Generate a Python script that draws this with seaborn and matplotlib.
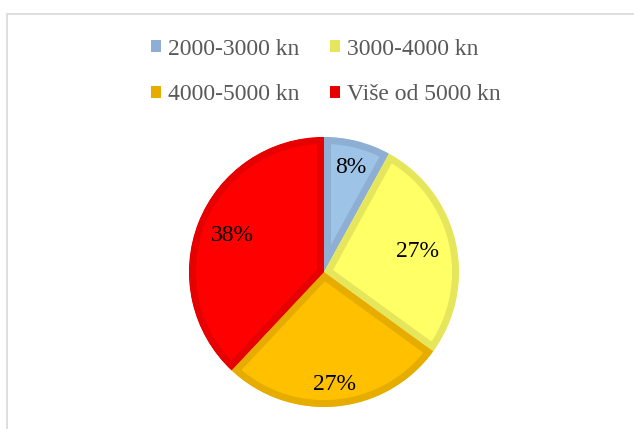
import matplotlib
matplotlib.use("Agg")
import numpy as np
import matplotlib.pyplot as plt
from matplotlib.patches import Patch, Rectangle
import seaborn as sns

categories = ["2000-3000 kn", "3000-4000 kn", "4000-5000 kn", "Više od 5000 kn"]
shares = [8, 27, 27, 38]
fill_colors = ["#9DC3E6", "#FFFF66", "#FFC000", "#FF0000"]
edge_colors = ["#8EAFD3", "#E6E65C", "#E6AD00", "#E60000"]
label_dist = [0.80, 0.71, 0.84, 0.73]  # label distance from centre, fraction of radius

sns.set_theme(style="white")
plt.rcParams["font.family"] = ["Liberation Serif", "DejaVu Serif"]

W, H = 634, 429
fig = plt.figure(figsize=(W / 100, H / 100), dpi=100)
fig.patch.set_facecolor("white")

# chart frame (only top/left visible)
fig.patches.append(Rectangle((6.5 / W, -0.2), 1.5, 1.2 - 14 / H,
                             transform=fig.transFigure, fill=False,
                             edgecolor="#D9D9D9", lw=1.2))

cx, cy, half = 324, 272, 140
ax = fig.add_axes([(cx - half) / W, (H - cy - half) / H, 2 * half / W, 2 * half / H])

pal = sns.color_palette(fill_colors)
R = 135 / half
wedges, texts, autotexts = ax.pie(
    shares, colors=pal, startangle=90, counterclock=False,
    radius=R, autopct="%.0f%%", pctdistance=0.78,
    wedgeprops=dict(linewidth=10, joinstyle="miter"),
    textprops=dict(fontsize=17, color="black"),
)
ax.set_xlim(-1, 1)
ax.set_ylim(-1, 1)
ax.set_aspect("equal")
ax.axis("off")
for w, ec, at, d in zip(wedges, edge_colors, autotexts, label_dist):
    w.set_edgecolor(ec)
    w.set_clip_on(True)
    w.set_clip_path(w)  # border drawn inside each slice only
    mid = np.deg2rad((w.theta1 + w.theta2) / 2)
    at.set_position((d * w.r * np.cos(mid), d * w.r * np.sin(mid)))
    at.set_zorder(5)

order = [0, 2, 1, 3]  # row-wise legend order
handles = [Patch(facecolor=edge_colors[i], edgecolor="none") for i in order]
labels = [categories[i] for i in order]
leg = fig.legend(handles, labels, ncol=2, loc="center",
                 bbox_to_anchor=(326 / W, 1 - 72 / H), frameon=False,
                 fontsize=17, handlelength=0.42, handleheight=0.42,
                 handletextpad=0.3, columnspacing=1.3, labelspacing=1.05)
for t in leg.get_texts():
    t.set_color("#595959")

fig.savefig("out.png", dpi=100, facecolor="white")
